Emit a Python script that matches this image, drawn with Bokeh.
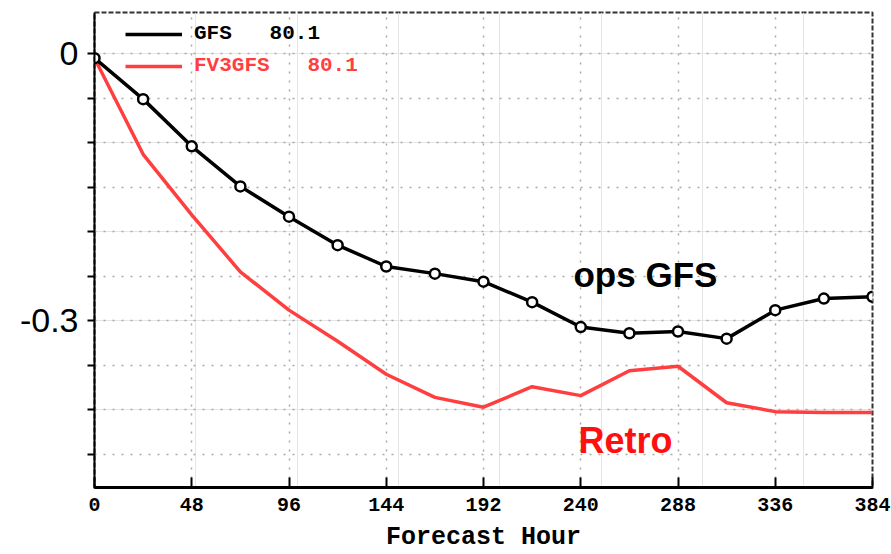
from bokeh.plotting import figure
from bokeh.models import (Range1d, LinearAxis, FixedTicker, Grid, Legend, LegendItem, Label)
from bokeh.embed import file_html
from bokeh.resources import INLINE

# ---- data ----
hours = [0, 24, 48, 72, 96, 120, 144, 168, 192, 216, 240, 264, 288, 312, 336, 360, 384]
gfs = [-0.005, -0.051, -0.104, -0.149, -0.183, -0.215, -0.239, -0.247, -0.256, -0.279,
       -0.307, -0.314, -0.312, -0.320, -0.288, -0.275, -0.273]
fv3gfs = [-0.005, -0.113, -0.181, -0.245, -0.288, -0.323, -0.360, -0.386, -0.397, -0.374,
          -0.384, -0.356, -0.351, -0.392, -0.402, -0.403, -0.403]
x_ticks = [0, 48, 96, 144, 192, 240, 288, 336, 384]
y_ticks = [0, -0.05, -0.1, -0.15, -0.2, -0.25, -0.3, -0.35, -0.4, -0.45]
y_tick_labels = {0: "0", -0.3: "-0.3"}
gfs_label = "GFS\u00a0\u00a0\u00a080.1"
fv3_label = "FV3GFS\u00a0\u00a0\u00a080.1"
x_title = "Forecast Hour"

RED = "#ff3f3f"

p = figure(width=891, height=554, output_backend="svg", toolbar_location=None,
           x_range=Range1d(0, 384), y_range=Range1d(-0.4872, 0.0463),
           x_axis_location=None, y_axis_location=None,
           min_border_left=94, min_border_right=19, min_border_top=12, min_border_bottom=66)
p.background_fill_color = "white"
p.border_fill_color = "white"
p.outline_line_color = "#333333"
p.outline_line_width = 2
p.outline_line_dash = "5 2"

# grids
xgrid = Grid(dimension=0, ticker=FixedTicker(ticks=x_ticks),
             grid_line_color="#a8a8a8", grid_line_dash="2 7", grid_line_width=1.5)
ygrid = Grid(dimension=1, ticker=FixedTicker(ticks=y_ticks),
             grid_line_color="#a8a8a8", grid_line_dash="2 7", grid_line_width=1.5)
p.add_layout(xgrid)
p.add_layout(ygrid)

# x axis
xaxis = LinearAxis(ticker=FixedTicker(ticks=x_ticks), axis_label=x_title)
xaxis.axis_line_width = 3
xaxis.axis_line_color = "black"
xaxis.major_tick_in = 10
xaxis.major_tick_out = 1
xaxis.major_tick_line_width = 2
xaxis.minor_tick_line_color = None
xaxis.major_label_text_font = "Liberation Mono"
xaxis.major_label_text_font_style = "bold"
xaxis.major_label_text_font_size = "20px"
xaxis.major_label_text_color = "black"
xaxis.major_label_standoff = 9
xaxis.axis_label_text_font = "Liberation Mono"
xaxis.axis_label_text_font_style = "bold"
xaxis.axis_label_text_font_size = "25px"
xaxis.axis_label_text_color = "black"
xaxis.axis_label_standoff = 9
p.add_layout(xaxis, "below")

# y axis
yaxis = LinearAxis(ticker=FixedTicker(ticks=y_ticks))
yaxis.major_label_overrides = {t: y_tick_labels.get(t, "") for t in y_ticks}
yaxis.axis_line_width = 2
yaxis.axis_line_color = "black"
yaxis.major_tick_in = 0
yaxis.major_tick_out = 7
yaxis.major_tick_line_width = 2
yaxis.minor_tick_line_color = None
yaxis.major_label_text_font = "Liberation Sans"
yaxis.major_label_text_font_size = "34px"
yaxis.major_label_text_color = "black"
yaxis.major_label_standoff = 9
p.add_layout(yaxis, "left")

# series
red_line = p.line(hours, fv3gfs, line_color=RED, line_width=3.5)
black_line = p.line(hours, gfs, line_color="black", line_width=3.5)
p.scatter(hours, gfs, marker="circle", size=10, fill_color="white",
          line_color="black", line_width=2.5)

# legends (one per entry so that each label has its own colour)
leg1 = Legend(items=[LegendItem(label=gfs_label, renderers=[black_line])],
              location=(31, 442))
leg2 = Legend(items=[LegendItem(label=fv3_label, renderers=[red_line])],
              location=(31, 410))
for lg, col in ((leg1, "black"), (leg2, RED)):
    lg.border_line_color = None
    lg.background_fill_alpha = 0
    lg.padding = 0
    lg.margin = 0
    lg.glyph_width = 57
    lg.glyph_height = 20
    lg.label_height = 20
    lg.label_standoff = 12
    lg.label_text_font = "Liberation Mono"
    lg.label_text_font_style = "bold"
    lg.label_text_font_size = "21px"
    lg.label_text_color = col
    lg.label_text_baseline = "middle"
    p.add_layout(lg)

# annotations
p.add_layout(Label(x=236.4, y=-0.2485, text="ops GFS", text_font="Liberation Sans",
                   text_font_style="bold", text_font_size="35px", text_color="black",
                   text_baseline="alphabetic"))
p.add_layout(Label(x=238.9, y=-0.434, text="Retro", text_font="Liberation Sans",
                   text_font_style="bold", text_font_size="36px", text_color="#ff1010",
                   text_baseline="alphabetic"))

open("out.html", "w").write(file_html(p, INLINE))
